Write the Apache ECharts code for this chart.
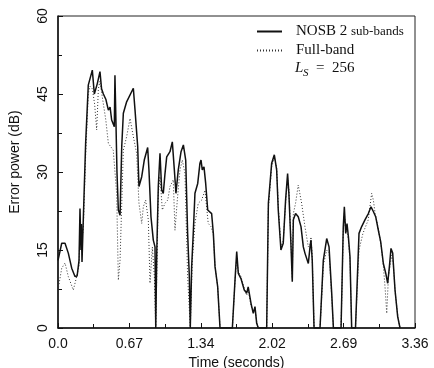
<!DOCTYPE html>
<html>
<head>
<meta charset="utf-8">
<script src="https://cdn.jsdelivr.net/npm/echarts@6/dist/echarts.min.js"></script>
<style>
  html, body { margin: 0; padding: 0; background: #fff; }
  #chart { width: 434px; height: 368px; }
</style>
</head>
<body>
<div id="chart"></div>
<script>
// x tick labels as printed
const xTickLabels = ['0.0', '0.67', '1.34', '2.02', '2.69', '3.36'];

// NOSB 2 sub-bands (solid), time in seconds / error power in dB
const timeNosb = [
  0.00, 0.035, 0.066, 0.097, 0.129, 0.16, 0.18, 0.198, 0.207, 0.216, 0.22, 0.226, 0.238, 0.26, 0.285,
  0.30, 0.323, 0.342, 0.37, 0.395, 0.41, 0.427, 0.45, 0.474, 0.49, 0.505, 0.53, 0.536, 0.545, 0.555,
  0.568, 0.584, 0.60, 0.615, 0.63, 0.646, 0.709, 0.725, 0.75, 0.762, 0.788, 0.812, 0.844, 0.856, 0.875,
  0.897, 0.913, 0.92, 0.93, 0.944, 0.96, 0.976, 0.991, 1.007, 1.023, 1.054, 1.076, 1.095, 1.11, 1.132,
  1.158, 1.18, 1.202, 1.22, 1.236, 1.245, 1.258, 1.273, 1.289, 1.315, 1.336, 1.346, 1.358, 1.374, 1.39,
  1.409, 1.446, 1.462, 1.478, 1.503, 1.525, 1.641, 1.666, 1.682, 1.697, 1.722, 1.753, 1.776, 1.79, 1.817,
  1.838, 1.854, 1.87, 1.885, 1.964, 1.98, 2.011, 2.036, 2.058, 2.073, 2.098, 2.12, 2.142, 2.161, 2.173,
  2.192, 2.205, 2.215, 2.236, 2.261, 2.287, 2.309, 2.324, 2.34, 2.356, 2.372, 2.381, 2.393, 2.41, 2.466,
  2.497, 2.529, 2.551, 2.576, 2.592, 2.664, 2.685, 2.695, 2.708, 2.72, 2.733, 2.748, 2.764, 2.80, 2.833,
  2.858, 2.889, 2.921, 2.946, 2.968, 2.99, 3.015, 3.037, 3.062, 3.085, 3.103, 3.119, 3.134, 3.15, 3.172,
  3.197, 3.219
];
const nosb = [
  13.0, 16.3, 16.3, 14.4, 11.5, 9.9, 10.0, 13.0, 23.0, 15.0, 20.0, 12.7, 20.8, 35.5, 46.7,
  47.0, 49.6, 45.0, 47.0, 49.3, 46.0, 45.0, 44.0, 41.9, 42.5, 40.0, 38.7, 48.6, 40.0, 30.0,
  22.7, 21.7, 35.0, 41.3, 41.6, 43.5, 46.1, 41.9, 34.9, 27.2, 29.1, 32.3, 34.7, 30.4, 21.4,
  16.9, 15.6, 0.0, 15.0, 27.2, 33.6, 26.5, 25.9, 29.7, 32.9, 33.9, 35.8, 30.4, 25.9, 30.4,
  33.9, 35.2, 32.3, 18.2, 9.9, 0.0, 11.8, 18.2, 25.9, 27.8, 31.7, 32.3, 30.4, 31.0, 27.8,
  22.7, 22.0, 18.2, 11.8, 7.9, 0.0, 0.0, 9.2, 14.7, 10.5, 9.5, 7.3, 6.7, 7.9, 4.7,
  2.8, 4.1, 0.9, 0.0, 0.0, 24.0, 31.7, 33.3, 30.4, 22.7, 15.0, 16.3, 24.6, 29.7, 25.9,
  16.3, 8.9, 20.8, 22.0, 21.4, 19.5, 15.6, 14.4, 14.7, 12.4, 15.6, 16.9, 13.0, 0.0, 0.0,
  13.0, 17.2, 15.6, 6.7, 0.0, 0.0, 19.5, 23.3, 18.2, 20.1, 17.6, 13.7, 0.0, 0.0, 18.2,
  19.5, 20.8, 22.0, 23.3, 22.4, 21.4, 18.8, 16.6, 12.4, 10.5, 8.6, 11.8, 15.3, 14.4, 7.3,
  2.2, 0.0
];

// Full-band (dotted)
const timeFull = [
  0.00, 0.035, 0.066, 0.097, 0.144, 0.176, 0.198, 0.207, 0.22, 0.238, 0.26, 0.285, 0.30, 0.323, 0.345,
  0.364, 0.38, 0.395, 0.42, 0.45, 0.474, 0.52, 0.552, 0.568, 0.584, 0.615, 0.646, 0.678, 0.709, 0.74,
  0.762, 0.788, 0.803, 0.825, 0.85, 0.866, 0.888, 0.907, 0.92, 0.944, 0.96, 0.982, 1.007, 1.033, 1.054,
  1.085, 1.101, 1.123, 1.148, 1.17, 1.195, 1.22, 1.245, 1.264, 1.289, 1.32, 1.352, 1.383, 1.414, 1.44,
  1.462, 1.478, 1.503, 1.525, 1.641, 1.666, 1.682, 1.697, 1.722, 1.753, 1.776, 1.79, 1.817, 1.838, 1.854,
  1.87, 1.885, 1.964, 1.98, 2.011, 2.036, 2.058, 2.073, 2.098, 2.12, 2.142, 2.161, 2.173, 2.192, 2.205,
  2.215, 2.236, 2.261, 2.293, 2.324, 2.356, 2.372, 2.381, 2.393, 2.41, 2.466, 2.497, 2.529, 2.551, 2.576,
  2.592, 2.664, 2.685, 2.695, 2.708, 2.72, 2.733, 2.748, 2.764, 2.80, 2.833, 2.87, 2.92, 2.952, 2.968,
  2.985, 3.015, 3.04, 3.062, 3.08, 3.094, 3.11, 3.14, 3.155, 3.175, 3.20, 3.219
];
const fullBand = [
  7.3, 11.5, 12.5, 9.9, 7.3, 9.9, 12.0, 20.0, 16.0, 19.0, 33.0, 45.0, 46.5, 46.0, 43.0,
  38.1, 46.0, 47.5, 44.0, 40.0, 35.5, 34.2, 25.9, 9.2, 13.0, 34.2, 36.8, 40.3, 36.8, 33.6,
  24.0, 20.1, 23.3, 24.6, 20.8, 8.6, 15.6, 9.9, 0.0, 25.9, 29.1, 22.7, 24.0, 24.6, 27.2,
  28.5, 18.8, 24.6, 30.4, 32.3, 29.7, 9.9, 0.0, 13.0, 20.1, 24.0, 24.6, 26.5, 20.1, 19.5,
  18.0, 11.8, 7.9, 0.0, 0.0, 9.0, 13.5, 10.8, 9.9, 7.6, 6.3, 7.5, 4.2, 3.2, 3.8,
  1.2, 0.0, 0.0, 23.0, 31.0, 32.8, 30.8, 23.5, 15.6, 16.8, 24.0, 28.8, 26.5, 17.0, 9.5,
  22.0, 24.0, 27.5, 24.0, 19.5, 15.6, 16.0, 17.5, 13.5, 0.0, 0.0, 12.0, 15.0, 14.5, 6.0,
  0.0, 0.0, 18.5, 22.0, 19.0, 18.5, 17.0, 13.0, 0.0, 0.0, 15.0, 18.2, 20.8, 25.9, 24.6,
  22.0, 19.0, 16.0, 12.0, 7.3, 2.8, 9.9, 14.0, 12.4, 6.5, 2.0, 0.0
];

const chart = echarts.init(document.getElementById('chart'));

const axisFont = { fontFamily: 'Liberation Sans', fontSize: 14, color: '#111' };

const option = {
  animation: false,
  backgroundColor: '#fff',
  grid: {
    left: 58, right: 19, top: 16, bottom: 40,
    outerBoundsMode: 'none',
    show: true, borderColor: '#222', borderWidth: 1
  },
  legend: {
    left: 251, top: 19,
    orient: 'vertical',
    itemWidth: 25, itemHeight: 10, itemGap: 4,
    itemStyle: { opacity: 0 },
    textStyle: {
      fontFamily: 'Liberation Serif', fontSize: 15, color: '#111', padding: [0, 0, 0, 9],
      rich: { s: { fontFamily: 'Liberation Serif', fontSize: 13, color: '#111' } }
    },
    formatter: (name) => name === 'NOSB 2 sub-bands' ? 'NOSB 2 {s|sub-bands}' : name,
    data: ['NOSB 2 sub-bands', 'Full-band']
  },
  graphic: [
    { type: 'text', left: 295, top: 61, style: { text: 'L', font: 'italic 15px "Liberation Serif"', fill: '#111' } },
    { type: 'text', left: 303, top: 68, style: { text: 'S', font: 'italic 11px "Liberation Serif"', fill: '#111' } },
    { type: 'text', left: 316, top: 61, style: { text: '=  256', font: '15px "Liberation Serif"', fill: '#111' } }
  ],
  xAxis: {
    type: 'value',
    min: 0, max: 3.36, interval: 0.672,
    name: 'Time (seconds)', nameLocation: 'middle', nameGap: 25,
    nameTextStyle: axisFont,
    axisLine: { lineStyle: { color: '#111', width: 1.5 } },
    axisTick: { inside: true, length: 5, lineStyle: { color: '#111' } },
    minorTick: { show: true, splitNumber: 2, length: 4, lineStyle: { color: '#111' } },
    splitLine: { show: false },
    axisLabel: {
      ...axisFont, margin: 9,
      formatter: (v) => xTickLabels[Math.round(v / 0.672)]
    }
  },
  yAxis: {
    type: 'value',
    min: 0, max: 60, interval: 15,
    name: 'Error power (dB)', nameLocation: 'middle', nameGap: 36,
    nameTextStyle: { ...axisFont, padding: [0, 0, 0, 20] },
    axisLine: { lineStyle: { color: '#111', width: 1.5 } },
    axisTick: { inside: true, length: 5, lineStyle: { color: '#111' } },
    minorTick: { show: true, splitNumber: 2, length: 4, lineStyle: { color: '#111' } },
    splitLine: { show: false },
    axisLabel: { ...axisFont, rotate: 90, margin: 8 }
  },
  series: [
    {
      name: 'NOSB 2 sub-bands',
      type: 'line',
      showSymbol: false, symbol: 'none',
      lineStyle: { color: '#111', width: 1.5 },
      itemStyle: { color: '#111' },
      data: timeNosb.map((t, i) => [t, nosb[i]]),
      z: 3
    },
    {
      name: 'Full-band',
      type: 'line',
      showSymbol: false, symbol: 'none',
      lineStyle: { color: '#333', width: 1, type: [1, 2] },
      itemStyle: { color: '#333' },
      data: timeFull.map((t, i) => [t, fullBand[i]]),
      z: 2
    }
  ]
};

chart.setOption(option);
</script>
</body>
</html>
